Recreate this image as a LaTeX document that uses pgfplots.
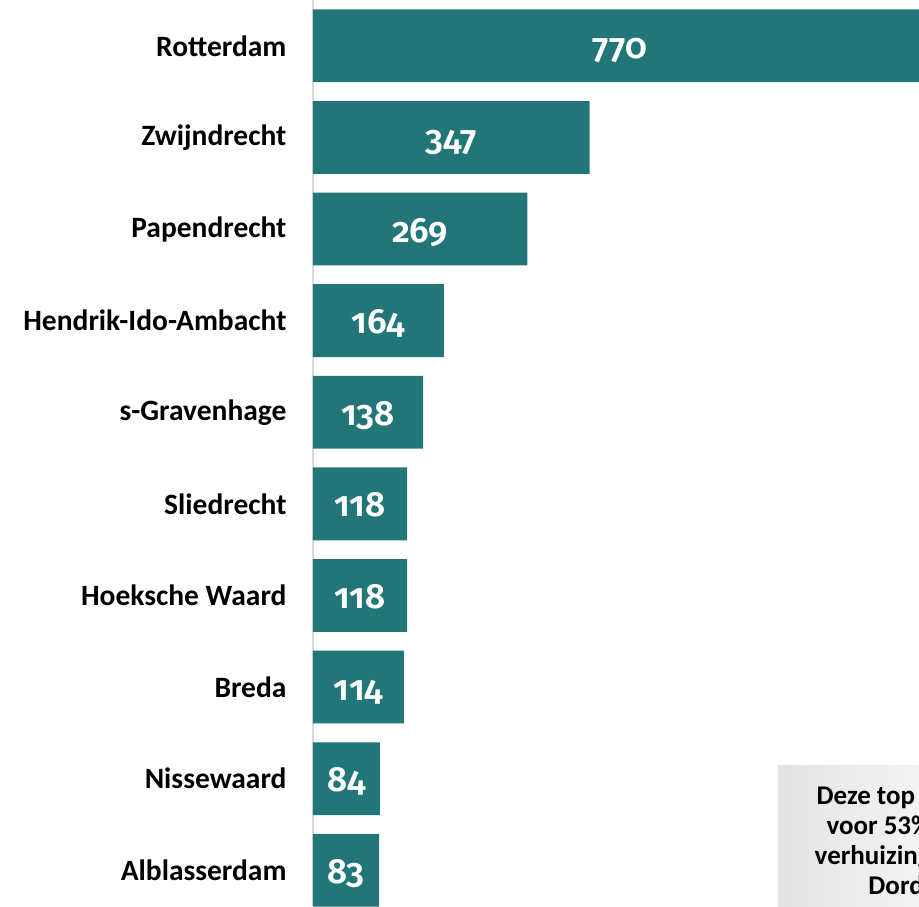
\documentclass[border=0pt]{standalone}
\usepackage{fontspec}
\setmainfont{Carlito}
\newfontfamily\numfont[Numbers=OldStyle]{Fira Sans SemiBold}
\usepackage{pgfplots}
\usepackage{pgfplotstable}
\pgfplotsset{compat=1.18}
\definecolor{barc}{HTML}{237677}
\pgfplotstableread{
y v
0 770
1 347
2 269
3 164
4 138
5 118
6 118
7 114
8 84
9 83
}\datatable
\begin{document}
\begin{tikzpicture}[x=1pt,y=1pt]
\useasboundingbox (0,0) rectangle (919,906);
\clip (0,0) rectangle (919,906);
\begin{axis}[
  at={(313pt,0pt)}, anchor=south west,
  scale only axis, width=606pt, height=906pt,
  xmin=0, xmax=760, ymin=-0.5, ymax=9.39,
  y dir=reverse,
  hide x axis,
  axis y line*=left,
  y axis line style={draw=black!15, line width=1.5pt, -},
  ytick={0,...,9},
  yticklabels={Rotterdam,Zwijndrecht,Papendrecht,Hendrik-Ido-Ambacht,s-Gravenhage,Sliedrecht,Hoeksche Waard,Breda,Nissewaard,Alblasserdam},
  major tick length=0pt,
  yticklabel style={font=\bfseries\fontsize{29.5}{29.5}\selectfont, text=black, xshift=-23pt},
]
\addplot[xbar, bar width=0.795, fill=barc, draw=none] table[x=v, y=y]{\datatable};
\addplot[only marks, mark=none, point meta=explicit symbolic,
  nodes near coords,
  nodes near coords style={anchor=base, yshift=-13pt, text=white, font=\numfont\fontsize{35}{35}\selectfont}]
  table[x expr=\thisrow{v}/2, y=y, meta=v]{\datatable};
\end{axis}
\shade[left color=black!11, right color=black!3] (778,0) rectangle (960,141);
\node[align=center, font=\bfseries\fontsize{27}{30}\selectfont, text=black] at (925,66)
  {Deze top 10 is goed\\voor 53\% van alle\\verhuizingen vanuit\\Dordrecht};
\end{tikzpicture}
\end{document}
